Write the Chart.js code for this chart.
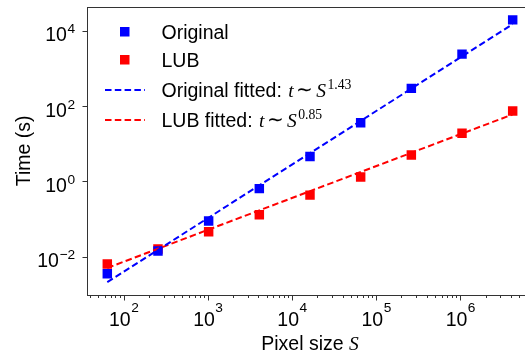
<!DOCTYPE html>
<html>
<head>
<meta charset="utf-8">
<script src="https://cdn.jsdelivr.net/npm/chart.js@4/dist/chart.umd.min.js"></script>
<style>
  html, body { margin: 0; padding: 0; background: #fff; overflow: hidden; width: 525px; height: 358px; }
  #wrap { width: 540px; height: 358px; position: relative; }
  canvas { display: block; }
</style>
</head>
<body>
<div id="wrap"><canvas id="c" width="540" height="358" style="width:540px;height:358px"></canvas></div>
<script>
// ---- data ----
const pixelSizes    = [64, 256, 1024, 4096, 16384, 65536, 262144, 1048576, 4194304];
const originalTimes = [0.0035, 0.014, 0.088, 0.64, 4.6, 36, 295, 2400, 19500];
const lubTimes      = [0.0064, 0.016, 0.046, 0.13, 0.43, 1.3, 5.0, 19, 74];
const fitX          = [64, 4194304];
const originalFitT  = [0.0021, 15000];
const lubFitT       = [0.0050, 60];
const seriesNames   = ['Original', 'LUB', 'Original fitted:', 'LUB fitted:'];
const fitExponents  = ['1.43', '0.85'];
const xMajorTicks   = [1e2, 1e3, 1e4, 1e5, 1e6];
const xMajorExp     = ['2', '3', '4', '5', '6'];
const yMajorTicks   = [1e-2, 1e0, 1e2, 1e4];
const yMajorExp     = ['\u22122', '0', '2', '4'];
const xTitle        = 'Pixel size ';
const xTitleVar     = 'S';
const yTitle        = 'Time (s)';

const BLUE = '#0000ff', RED = '#ff0000';
const SANS = '"Liberation Sans", Arial, sans-serif';
const SERIF = '"Liberation Serif", "Times New Roman", serif';
const FS = 19.5, SUP = 13.7;

const pts = (xs, ys) => xs.map((x, i) => ({ x: x, y: ys[i] }));

const decor = {
  id: 'decor',
  afterDraw(chart) {
    const ctx = chart.ctx;
    const a = chart.chartArea;
    const xs = chart.scales.x, ys = chart.scales.y;
    ctx.save();
    // spines
    ctx.strokeStyle = '#333';
    ctx.lineWidth = 1;
    ctx.strokeRect(Math.round(a.left) + 0.5, Math.round(a.top) + 0.5,
                   Math.round(a.right - a.left), Math.round(a.bottom - a.top));
    const bottom = Math.round(a.bottom) + 0.5, left = Math.round(a.left) + 0.5;
    // x ticks (major + minor)
    ctx.beginPath();
    for (let k = 1; k <= 6; k++) {
      for (let m = 1; m <= 9; m++) {
        const v = m * Math.pow(10, k);
        if (v < xs.min || v > xs.max) continue;
        const px = Math.round(xs.getPixelForValue(v)) + 0.5;
        const len = (m === 1) ? 5 : 2.5;
        ctx.moveTo(px, bottom);
        ctx.lineTo(px, bottom + len);
      }
    }
    // y ticks (major only)
    yMajorTicks.forEach(v => {
      const py = Math.round(ys.getPixelForValue(v)) + 0.5;
      ctx.moveTo(left, py);
      ctx.lineTo(left - 5, py);
    });
    ctx.stroke();

    ctx.fillStyle = '#000';
    ctx.textBaseline = 'alphabetic';
    // x tick labels
    xMajorTicks.forEach((v, i) => {
      const px = xs.getPixelForValue(v);
      ctx.font = FS + 'px ' + SANS;
      const w1 = ctx.measureText('10').width;
      ctx.font = SUP + 'px ' + SANS;
      const w2 = ctx.measureText(xMajorExp[i]).width;
      const x0 = px - (w1 + w2) / 2;
      ctx.textAlign = 'left';
      ctx.font = FS + 'px ' + SANS;
      ctx.fillText('10', x0, a.bottom + 31);
      ctx.font = SUP + 'px ' + SANS;
      ctx.fillText(xMajorExp[i], x0 + w1 + 0.5, a.bottom + 17);
    });
    // y tick labels
    yMajorTicks.forEach((v, i) => {
      const py = ys.getPixelForValue(v);
      ctx.font = SUP + 'px ' + SANS;
      const w2 = ctx.measureText(yMajorExp[i]).width;
      ctx.font = FS + 'px ' + SANS;
      const w1 = ctx.measureText('10').width;
      const xr = a.left - 12;
      ctx.textAlign = 'left';
      ctx.fillText('10', xr - w2 - w1 - 0.5, py + 10.5);
      ctx.font = SUP + 'px ' + SANS;
      ctx.fillText(yMajorExp[i], xr - w2, py + 2.5);
    });
    // x title
    ctx.font = FS + 'px ' + SANS;
    const t1 = ctx.measureText(xTitle).width;
    ctx.font = 'italic ' + FS + 'px ' + SERIF;
    const t2 = ctx.measureText(xTitleVar).width;
    const cx = (a.left + a.right) / 2;
    const tx0 = cx - (t1 + t2) / 2;
    ctx.font = FS + 'px ' + SANS;
    ctx.fillText(xTitle, tx0, 350);
    ctx.font = 'italic ' + FS + 'px ' + SERIF;
    ctx.fillText(xTitleVar, tx0 + t1, 350);
    // y title
    ctx.save();
    ctx.translate(30, (a.top + a.bottom) / 2);
    ctx.rotate(-Math.PI / 2);
    ctx.textAlign = 'center';
    ctx.font = FS + 'px ' + SANS;
    ctx.fillText(yTitle, 0, 0);
    ctx.restore();

    // legend
    const textX = 161.5;
    const rows = [39, 67, 97, 127];
    ctx.fillStyle = BLUE;
    ctx.fillRect(120, rows[0] - 12, 9.5, 9.5);
    ctx.fillStyle = RED;
    ctx.fillRect(120, rows[1] - 12, 9.5, 9.5);
    ctx.lineWidth = 2;
    ctx.setLineDash([6.5, 3.3]);
    ctx.strokeStyle = BLUE;
    ctx.beginPath(); ctx.moveTo(105, rows[2] - 7); ctx.lineTo(145, rows[2] - 7); ctx.stroke();
    ctx.strokeStyle = RED;
    ctx.beginPath(); ctx.moveTo(105, rows[3] - 7); ctx.lineTo(145, rows[3] - 7); ctx.stroke();
    ctx.setLineDash([]);
    ctx.fillStyle = '#000';
    ctx.textAlign = 'left';
    for (let r = 0; r < 4; r++) {
      ctx.font = FS + 'px ' + SANS;
      ctx.fillText(seriesNames[r], textX, rows[r]);
      if (r >= 2) {
        let x = textX + ctx.measureText(seriesNames[r]).width + 6.5;
        ctx.font = 'italic ' + FS + 'px ' + SERIF;
        ctx.fillText('t', x, rows[r]);
        x += ctx.measureText('t').width + 2.5;
        ctx.font = FS + 'px ' + SERIF;
        ctx.fillText('\u223C', x, rows[r] - 1);
        x += ctx.measureText('\u223C').width + 3;
        ctx.font = 'italic ' + FS + 'px ' + SERIF;
        ctx.fillText('S', x, rows[r]);
        x += ctx.measureText('S').width + 1.5;
        ctx.font = SUP + 'px ' + SERIF;
        ctx.fillText(fitExponents[r - 2], x, rows[r] - 8.5);
      }
    }
    ctx.restore();
  }
};

new Chart(document.getElementById('c'), {
  type: 'scatter',
  data: {
    datasets: [
      { label: 'Original fitted', data: pts(fitX, originalFitT), showLine: true,
        borderColor: BLUE, borderWidth: 2, borderDash: [6.5, 3.3], pointRadius: 0, fill: false },
      { label: 'LUB fitted', data: pts(fitX, lubFitT), showLine: true,
        borderColor: RED, borderWidth: 2, borderDash: [6.5, 3.3], pointRadius: 0, fill: false },
      { label: 'Original', data: pts(pixelSizes, originalTimes), pointStyle: 'rect',
        pointRadius: 6.7, backgroundColor: BLUE, borderWidth: 0, borderColor: BLUE },
      { label: 'LUB', data: pts(pixelSizes, lubTimes), pointStyle: 'rect',
        pointRadius: 6.7, backgroundColor: RED, borderWidth: 0, borderColor: RED }
    ]
  },
  options: {
    responsive: false,
    animation: false,
    devicePixelRatio: 1,
    layout: { padding: { left: 87, top: 6, right: 7, bottom: 63 } },
    plugins: { legend: { display: false }, tooltip: { enabled: false } },
    scales: {
      x: { type: 'logarithmic', display: false, min: Math.pow(10, 1.565), max: Math.pow(10, 6.864) },
      y: { type: 'logarithmic', display: false, min: Math.pow(10, -3.02), max: Math.pow(10, 4.64) }
    }
  },
  plugins: [decor]
});
</script>
</body>
</html>
